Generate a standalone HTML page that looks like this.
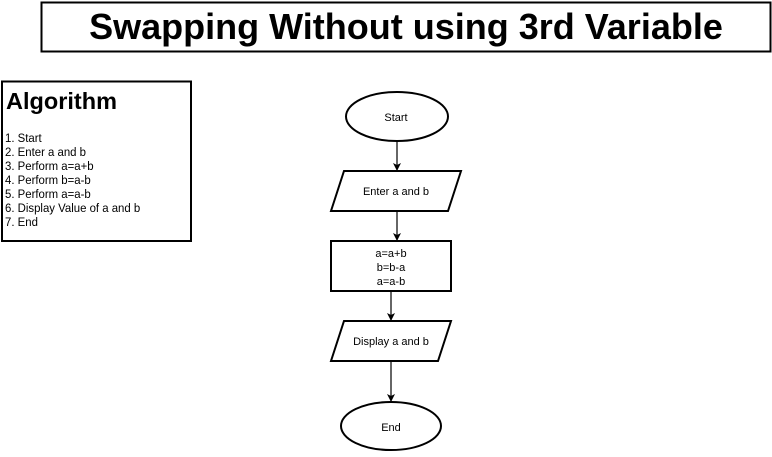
<!DOCTYPE html>
<html><head><style>body{margin:0;background:#fff;width:772px;height:452px;overflow:hidden}</style></head><body>
<svg width="772" height="452" xmlns="http://www.w3.org/2000/svg" font-family="Liberation Sans, sans-serif">
<defs><marker id="a" markerWidth="8" markerHeight="8" refX="7" refY="4" orient="auto" markerUnits="userSpaceOnUse"><path d="M0,0 L8,4 L0,8 L2,4z" fill="#000"/></marker></defs>
<rect x="41.5" y="2.5" width="729" height="49" fill="#fff" stroke="#000" stroke-width="2"/>
<text x="406" y="39" text-anchor="middle" font-size="36" font-weight="bold">Swapping Without using 3rd Variable</text>
<rect x="2" y="81.5" width="189" height="159.5" fill="#fff" stroke="#000" stroke-width="2"/>
<text x="6" y="109" font-size="23.5" font-weight="bold">Algorithm</text>
<g font-size="12" transform="translate(5,0) scale(0.95,1)">
<text x="0" y="142">1. Start</text><text x="0" y="156">2. Enter a and b</text><text x="0" y="170">3. Perform a=a+b</text><text x="0" y="184">4. Perform b=a-b</text><text x="0" y="198">5. Perform a=a-b</text><text x="0" y="212">6. Display Value of a and b</text><text x="0" y="226">7. End</text>
</g>
<g stroke="#000" stroke-width="2" fill="#fff">
<ellipse cx="397" cy="116.5" rx="51" ry="24.5"/>
<polygon points="344,171 461,171 448,211 331,211"/>
<rect x="331" y="241" width="120" height="50"/>
<polygon points="344,321 451,321 438,361 331,361"/>
<ellipse cx="391" cy="426" rx="50" ry="24"/>
</g>
<g stroke="#000" stroke-width="1.2" marker-end="url(#a)">
<line x1="397" y1="141" x2="397" y2="170"/>
<line x1="397" y1="211" x2="397" y2="240"/>
<line x1="391" y1="291" x2="391" y2="320"/>
<line x1="391" y1="361" x2="391" y2="401"/>
</g>
<g font-size="11" text-anchor="middle">
<text x="396" y="121">Start</text>
<text x="396" y="195">Enter a and b</text>
<text x="391" y="257">a=a+b</text><text x="391" y="271">b=b-a</text><text x="391" y="285">a=a-b</text>
<text x="391" y="345">Display a and b</text>
<text x="391" y="431">End</text>
</g>
</svg>
</body></html>
